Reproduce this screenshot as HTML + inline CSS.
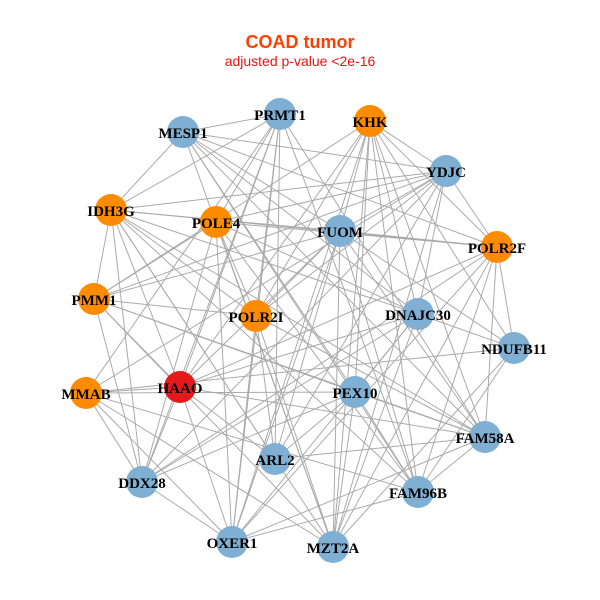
<!DOCTYPE html>
<html><head><meta charset="utf-8"><style>
html,body{margin:0;padding:0;background:#fff;width:600px;height:600px;overflow:hidden}
svg{display:block}
</style></head><body>
<svg id="s" width="600" height="600" xmlns="http://www.w3.org/2000/svg">
<rect width="600" height="600" fill="#fff"/>
<text x="300" y="48" text-anchor="middle" font-family="Liberation Sans, sans-serif" font-weight="bold" font-size="18" fill="#ff3f00">COAD tumor</text>
<text x="300" y="66" text-anchor="middle" font-family="Liberation Sans, sans-serif" font-size="14" fill="#ee1111">adjusted p-value &lt;2e-16</text>
<g id="e" stroke="#aaaaaa" stroke-width="1"></g>
<g id="n"></g>
</svg>
<script>
var N=[["MESP1",183,132,"b"],["PRMT1",280,114,"b"],["KHK",370,121,"o"],["YDJC",446,171,"b"],["IDH3G",111,210,"o"],["POLE4",216,222,"o"],["FUOM",340,231,"b"],["POLR2F",497,247,"o"],["PMM1",94,299,"o"],["POLR2I",256,316,"o"],["DNAJC30",418,314,"b"],["NDUFB11",514,348,"b"],["MMAB",86,393,"o"],["HAAO",180,387,"r"],["PEX10",355,392,"b"],["FAM58A",485,437,"b"],["ARL2",275,459,"b"],["DDX28",142,482,"b"],["FAM96B",418,492,"b"],["OXER1",232,542,"b"],["MZT2A",333,547,"b"]];
var C={b:"#7fafd3",o:"#ff8c00",r:"#e31a1c"};
var ns="http://www.w3.org/2000/svg",eg=document.getElementById("e"),ng=document.getElementById("n");
var seed=7;function rnd(){seed=(seed*16807)%2147483647;return seed/2147483647;}
for(var i=0;i<N.length;i++)for(var j=i+1;j<N.length;j++){if(rnd()<0.62){var l=document.createElementNS(ns,"line");l.setAttribute("x1",N[i][1]);l.setAttribute("y1",N[i][2]);l.setAttribute("x2",N[j][1]);l.setAttribute("y2",N[j][2]);eg.appendChild(l);}}
N.forEach(function(d){var c=document.createElementNS(ns,"circle");c.setAttribute("cx",d[1]);c.setAttribute("cy",d[2]);c.setAttribute("r",16);c.setAttribute("fill",C[d[3]]);ng.appendChild(c);});
N.forEach(function(d){var t=document.createElementNS(ns,"text");t.setAttribute("x",d[1]);t.setAttribute("y",d[2]+6);t.setAttribute("text-anchor","middle");t.setAttribute("font-family","Liberation Serif, serif");t.setAttribute("font-weight","bold");t.setAttribute("font-size","15");t.textContent=d[0];ng.appendChild(t);});
</script>
</body></html>
